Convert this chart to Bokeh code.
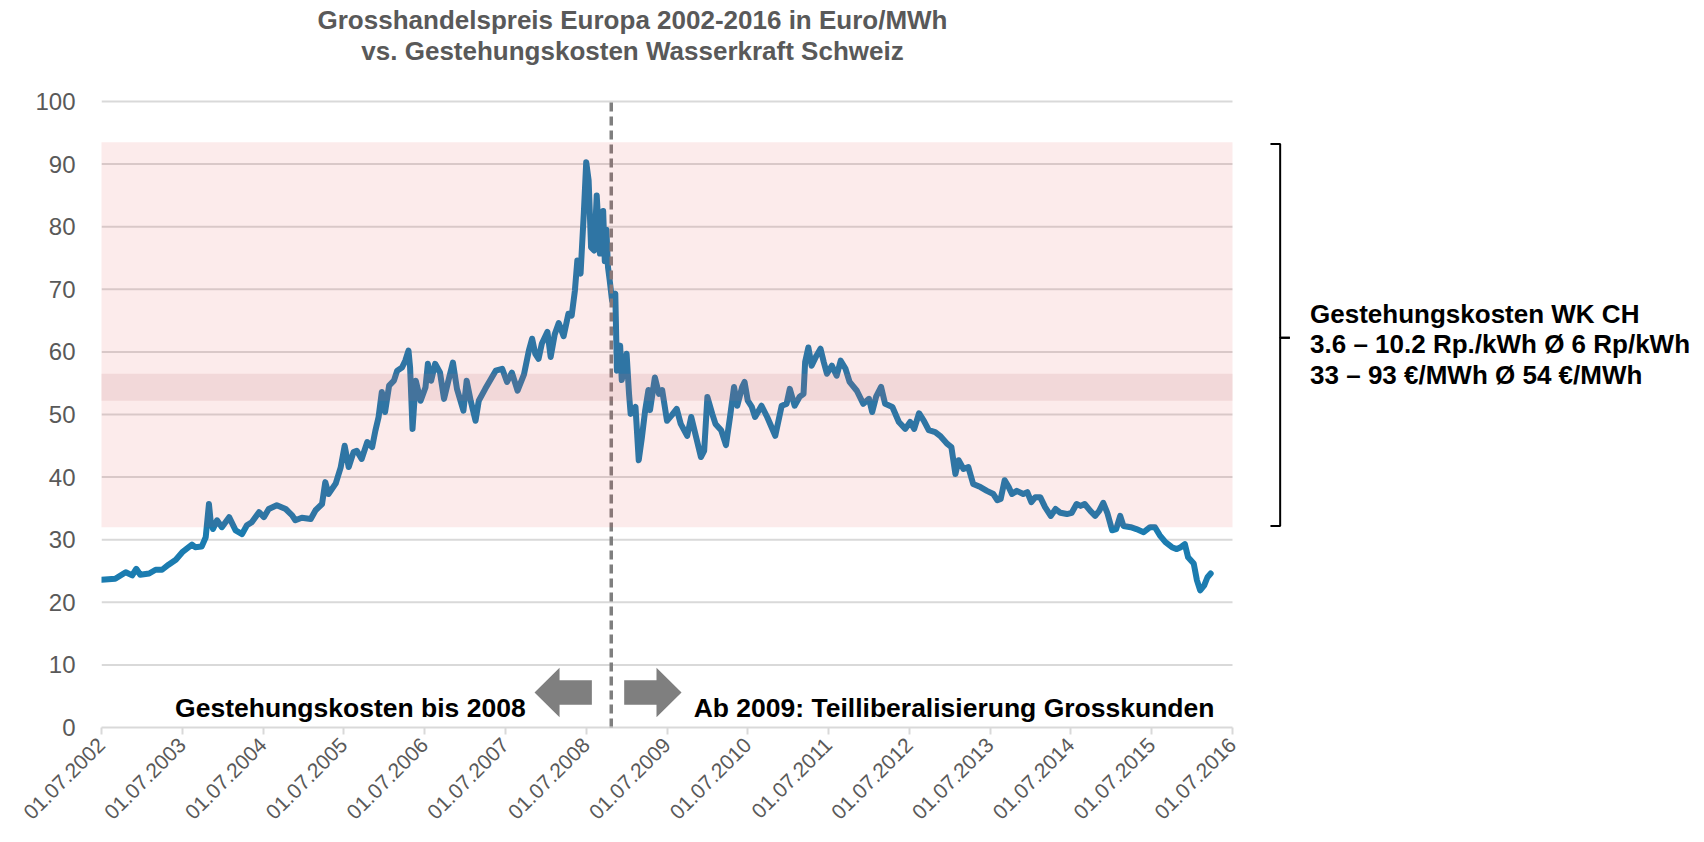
import math
from bokeh.plotting import figure
from bokeh.models import Range1d, FixedTicker, Arrow
from bokeh.core.properties import value
from bokeh.embed import file_html
from bokeh.resources import INLINE

# ---------------- data ----------------
years = [
    2002.50, 2002.67, 2002.80, 2002.88, 2002.93, 2002.98, 2003.09, 2003.17, 2003.25, 2003.33,
    2003.42, 2003.50, 2003.58, 2003.62, 2003.66, 2003.74, 2003.79, 2003.83, 2003.85, 2003.88,
    2003.93, 2003.99, 2004.08, 2004.16, 2004.24, 2004.30, 2004.36, 2004.45, 2004.51, 2004.57,
    2004.67, 2004.78, 2004.86, 2004.90, 2004.98, 2005.09, 2005.15, 2005.23, 2005.27, 2005.31,
    2005.40, 2005.46, 2005.51, 2005.56, 2005.62, 2005.66, 2005.72, 2005.79, 2005.85, 2005.89,
    2005.93, 2005.97, 2006.01, 2006.06, 2006.12, 2006.16, 2006.22, 2006.26, 2006.30, 2006.32,
    2006.35, 2006.39, 2006.45, 2006.51, 2006.54, 2006.58, 2006.63, 2006.69, 2006.74, 2006.79,
    2006.85, 2006.90, 2006.98, 2007.02, 2007.07, 2007.13, 2007.17, 2007.25, 2007.38, 2007.46,
    2007.52, 2007.58, 2007.65, 2007.73, 2007.79, 2007.83, 2007.87, 2007.91, 2007.95, 2008.02,
    2008.06, 2008.11, 2008.16, 2008.22, 2008.28, 2008.32, 2008.36, 2008.39, 2008.43, 2008.47,
    2008.50, 2008.53, 2008.56, 2008.60, 2008.63, 2008.67, 2008.69, 2008.71, 2008.73, 2008.75,
    2008.77, 2008.79, 2008.82, 2008.86, 2008.88, 2008.92, 2008.94, 2009.00, 2009.03, 2009.05,
    2009.11, 2009.15, 2009.19, 2009.23, 2009.27, 2009.29, 2009.35, 2009.40, 2009.44, 2009.50,
    2009.56, 2009.62, 2009.67, 2009.75, 2009.80, 2009.86, 2009.92, 2009.96, 2010.00, 2010.06,
    2010.10, 2010.17, 2010.23, 2010.28, 2010.33, 2010.37, 2010.43, 2010.46, 2010.50, 2010.55,
    2010.59, 2010.67, 2010.74, 2010.84, 2010.92, 2010.98, 2011.02, 2011.08, 2011.14, 2011.19,
    2011.21, 2011.25, 2011.29, 2011.35, 2011.40, 2011.44, 2011.48, 2011.54, 2011.60, 2011.65,
    2011.71, 2011.76, 2011.85, 2011.93, 2012.00, 2012.04, 2012.09, 2012.15, 2012.20, 2012.29,
    2012.37, 2012.45, 2012.51, 2012.56, 2012.62, 2012.68, 2012.74, 2012.82, 2012.88, 2012.97,
    2013.02, 2013.07, 2013.11, 2013.17, 2013.23, 2013.29, 2013.38, 2013.46, 2013.54, 2013.59,
    2013.63, 2013.68, 2013.73, 2013.77, 2013.83, 2013.91, 2013.96, 2014.01, 2014.06, 2014.12,
    2014.18, 2014.25, 2014.31, 2014.37, 2014.45, 2014.51, 2014.57, 2014.62, 2014.67, 2014.74,
    2014.80, 2014.85, 2014.90, 2014.95, 2015.01, 2015.06, 2015.11, 2015.15, 2015.24, 2015.31,
    2015.40, 2015.48, 2015.54, 2015.60, 2015.67, 2015.75, 2015.81, 2015.86, 2015.91, 2015.95,
    2016.02, 2016.06, 2016.10, 2016.15, 2016.19, 2016.23,
]
price = [
    23.6, 23.75, 24.8, 24.3, 25.35, 24.4, 24.6, 25.2, 25.2, 26.0,
    26.8, 28.0, 28.8, 29.2, 28.8, 28.9, 30.4, 35.7, 33.1, 31.7,
    33.1, 32.0, 33.6, 31.5, 30.9, 32.3, 32.8, 34.4, 33.6, 34.9,
    35.5, 34.9, 33.9, 33.1, 33.5, 33.3, 34.7, 35.7, 39.2, 37.3,
    39.0, 41.5, 45.0, 41.6, 44.0, 44.2, 42.9, 45.6, 44.8, 47.4,
    49.6, 53.6, 50.4, 54.6, 55.4, 57.0, 57.5, 58.6, 60.2, 57.5,
    47.7, 55.4, 52.2, 54.3, 58.1, 55.4, 58.1, 56.7, 52.5, 55.2,
    58.3, 54.1, 50.6, 55.4, 52.2, 49.0, 52.2, 54.1, 57.0, 57.3,
    55.2, 56.7, 53.8, 56.4, 60.2, 62.1, 59.7, 58.9, 61.3, 63.2,
    59.2, 62.8, 64.6, 62.5, 66.1, 65.8, 69.8, 74.6, 72.5, 82.1,
    90.3, 87.4, 76.7, 76.2, 85.0, 75.7, 79.0, 82.5, 74.5, 79.5,
    73.5, 71.5, 68.2, 69.3, 57.0, 61.0, 55.5, 59.7, 53.3, 50.1,
    51.2, 42.7, 46.4, 50.7, 53.9, 50.7, 55.9, 53.3, 53.9, 49.0,
    49.9, 50.9, 48.5, 46.6, 49.6, 46.4, 43.2, 44.2, 52.8, 50.1,
    48.5, 47.5, 45.1, 49.6, 54.4, 51.4, 54.4, 55.2, 52.2, 51.2,
    49.6, 51.4, 49.6, 46.6, 51.4, 51.7, 54.1, 51.4, 52.8, 53.3,
    58.4, 60.7, 57.8, 59.4, 60.5, 58.4, 56.5, 57.8, 56.2, 58.6,
    57.3, 55.2, 53.8, 51.7, 52.5, 50.4, 52.9, 54.4, 51.7, 51.2,
    48.8, 47.7, 48.8, 47.7, 50.2, 49.0, 47.5, 47.2, 46.6, 45.3,
    44.8, 40.5, 42.7, 41.3, 41.6, 38.9, 38.4, 37.8, 37.3, 36.3,
    36.5, 39.5, 38.4, 37.3, 37.8, 37.3, 37.6, 36.0, 36.8, 36.8,
    35.2, 33.8, 34.9, 34.3, 34.1, 34.3, 35.7, 35.4, 35.7, 34.6,
    33.8, 34.6, 35.9, 34.3, 31.5, 31.7, 33.8, 32.2, 32.0, 31.7,
    31.2, 32.0, 32.0, 30.7, 29.6, 28.8, 28.5, 28.8, 29.3, 27.2,
    26.2, 23.5, 21.9, 22.7, 24.0, 24.6,
]

tick_years = list(range(2002, 2017))
tick_labels = ["01.07.%d" % y for y in tick_years]
y_ticks = [0, 10, 20, 30, 40, 50, 60, 70, 80, 90, 100]

cost_band = [32.0, 93.5]        # Gestehungskosten range (drawn)
avg_band = [52.2, 56.5]         # around the 54 EUR/MWh average
divider_year = 2008.81          # start of partial liberalisation

title_lines = ["Grosshandelspreis Europa 2002-2016 in Euro/MWh",
               "vs. Gestehungskosten Wasserkraft Schweiz"]
note_lines = ["Gestehungskosten WK CH",
              "3.6 \u2013 10.2 Rp./kWh \u00d8 6 Rp/kWh",
              "33 \u2013 93 \u20ac/MWh \u00d8 54 \u20ac/MWh"]
left_note = "Gestehungskosten bis 2008"
right_note = "Ab 2009: Teilliberalisierung Grosskunden"

# ---------------- layout ----------------
W, H = 1704, 842
LEFT, RIGHT = 101, 4
FRAME_W = W - LEFT - RIGHT
FRAME_H = 727                      # value 0 sits here; titles live inside the frame
BOTTOM = H - FRAME_H
px_per_year = 1131.0 / 14.0
px_per_unit = 6.26
x_start = tick_years[0] + 0.5
x_end = x_start + FRAME_W / px_per_year
y_end = FRAME_H / px_per_unit

FONT = "Liberation Sans"
GRAY = "#595959"
GRID = "#D9D9D9"

p = figure(frame_width=FRAME_W, frame_height=FRAME_H,
           output_backend="svg", toolbar_location=None,
           x_range=Range1d(x_start, x_end), y_range=Range1d(0, y_end),
           min_border_left=LEFT, min_border_right=RIGHT,
           min_border_top=0, min_border_bottom=BOTTOM)
p.outline_line_color = None
p.background_fill_color = "white"
p.border_fill_color = "white"
p.xgrid.visible = False
p.ygrid.visible = False

# axes
x_ticks = [y + 0.5 for y in tick_years]
xa = p.xaxis[0]
xa.ticker = FixedTicker(ticks=x_ticks)
xa.major_label_overrides = {t: lab for t, lab in zip(x_ticks, tick_labels)}
xa.bounds = (x_ticks[0], x_ticks[-1])
xa.axis_line_color = GRID
xa.axis_line_width = 2
xa.major_tick_line_color = GRID
xa.major_tick_line_width = 2
xa.major_tick_out = 7
xa.major_tick_in = 0
xa.minor_tick_line_color = None
xa.major_label_orientation = math.pi / 4
xa.major_label_text_font = FONT
xa.major_label_text_font_size = "21px"
xa.major_label_text_color = GRAY
xa.major_label_standoff = 7

ya = p.yaxis[0]
ya.ticker = FixedTicker(ticks=y_ticks)
ya.axis_line_color = None
ya.major_tick_line_color = None
ya.minor_tick_line_color = None
ya.major_label_text_font = FONT
ya.major_label_text_font_size = "24px"
ya.major_label_text_color = GRAY
ya.major_label_standoff = 20

# horizontal gridlines limited to the data period
gy = y_ticks[1:]
p.segment(x0=[x_ticks[0]] * len(gy), x1=[x_ticks[-1]] * len(gy), y0=gy, y1=gy,
          line_color=GRID, line_width=2)

# price series
p.line(years, price, line_color="#1B7CB0", line_width=6, line_join="round", line_cap="round")

# divider (inside the plot) ...
DIV_COLOR = "#7F7F7F"
p.segment(x0=[divider_year], x1=[divider_year], y0=[0], y1=[100.5],
          line_color=DIV_COLOR, line_width=3.5, line_dash="9 5")
# ... and its short continuation below the axis line
p.add_layout(Arrow(end=None, start=None, x_start=divider_year, x_end=divider_year,
                   y_start=0, y_end=-3.7, line_color=DIV_COLOR, line_width=3.5,
                   line_dash="9 5", line_dash_offset=4))

# cost bands drawn over the line (translucent)
p.quad(left=[x_ticks[0] - 0.03], right=[x_ticks[-1]], bottom=[cost_band[0]], top=[cost_band[1]],
       fill_color="#E13737", fill_alpha=0.1, line_color=None)
p.quad(left=[x_ticks[0] - 0.03], right=[x_ticks[-1]], bottom=[avg_band[0]], top=[avg_band[1]],
       fill_color="#BE6E73", fill_alpha=0.15, line_color=None)

# title (two centred lines above the plot area)
title_x = x_start + (632 - LEFT) / px_per_year
p.text(x=[title_x, title_x], y=[113.0, 108.1], text=title_lines, text_align="center",
       text_baseline="middle", text_font=value(FONT), text_font_size="26px",
       text_font_style="bold", text_color=GRAY)

# block arrows on both sides of the divider
a_mid = divider_year - 0.04
gap, body, head = 0.2, 0.4, 0.31
yc, bh, hh = 5.6, 1.95, 3.95
lt = a_mid - gap                 # left arrow tail
lhb = lt - body                  # left head base
ltip = lhb - head
rt = a_mid + gap
rhb = rt + body
rtip = rhb + head
p.patches(
    xs=[[ltip, lhb, lhb, lt, lt, lhb, lhb], [rtip, rhb, rhb, rt, rt, rhb, rhb]],
    ys=[[yc, yc + hh, yc + bh, yc + bh, yc - bh, yc - bh, yc - hh]] * 2,
    fill_color="#7F7F7F", line_color=None)

p.text(x=[ltip - 0.11], y=[3.1], text=[left_note], text_align="right",
       text_baseline="alphabetic", text_font=value(FONT), text_font_size="26.5px",
       text_font_style="bold", text_color="black")
p.text(x=[rtip + 0.15], y=[3.1], text=[right_note], text_align="left",
       text_baseline="alphabetic", text_font=value(FONT), text_font_size="26.5px",
       text_font_style="bold", text_color="black")

# curly bracket + note on the right
bx = x_ticks[-1] + 0.59
b_mid = (cost_band[0] + cost_band[1]) / 2.0 - 0.5
p.multi_line(
    xs=[[bx - 0.12, bx, bx, bx + 0.12], [bx + 0.12, bx, bx, bx - 0.12]],
    ys=[[cost_band[1] - 0.3, cost_band[1] - 0.3, b_mid, b_mid],
        [b_mid, b_mid, cost_band[0] + 0.2, cost_band[0] + 0.2]],
    line_color="black", line_width=2)
line_gap = 4.9
base = b_mid - 1.05
p.text(x=[bx + 0.37] * 3, y=[base + line_gap, base, base - line_gap],
       text=note_lines, text_align="left", text_baseline="alphabetic",
       text_font=value(FONT), text_font_size="26px", text_font_style="bold", text_color="black")

open("out.html", "w").write(file_html(p, INLINE))
